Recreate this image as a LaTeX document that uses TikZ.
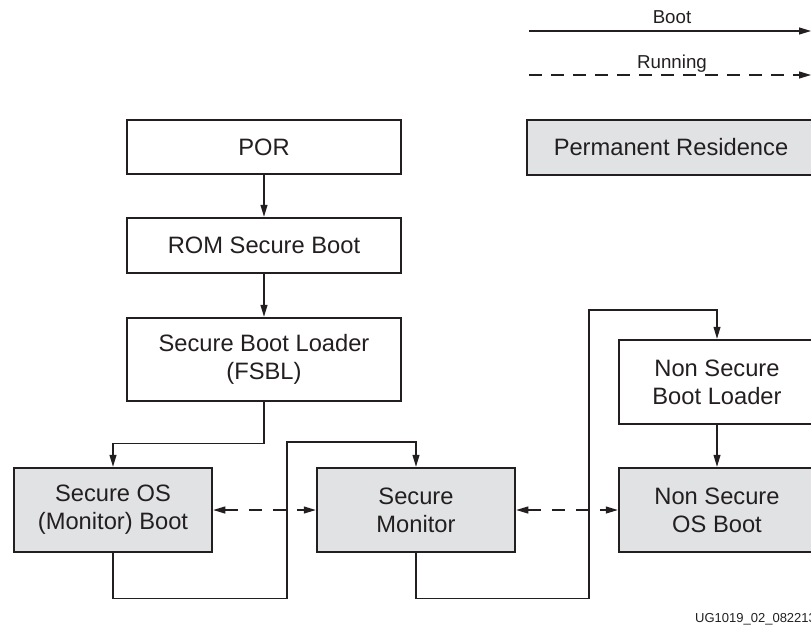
\documentclass[tikz,border=0pt]{standalone}
\usepackage{fontspec}
\setmainfont{Liberation Sans}
\usetikzlibrary{arrows.meta}
\definecolor{ink}{HTML}{231F20}
\definecolor{boxgrey}{HTML}{E1E2E4}
\tikzset{
  blk/.style={draw=ink, line width=2.5pt, text=ink, align=center,
    font=\fontsize{23.7}{28}\selectfont, inner sep=0pt},
  plainbox/.style={blk, fill=white},
  greybox/.style={blk, fill=boxgrey},
  arr/.style={draw=ink, line width=1.1pt, -{Triangle[length=12pt,width=7pt]}},
  darr/.style={draw=ink, line width=1.1pt, dash pattern=on 13pt off 11pt,
    {Triangle[length=12pt,width=7pt]}-{Triangle[length=12pt,width=7pt]}},
  legtext/.style={text=ink, font=\fontsize{18.7}{22}\selectfont, anchor=base},
}
\begin{document}
\begin{tikzpicture}[x=1pt,y=-1pt]
\useasboundingbox (0,0) rectangle (811,625);

% legend
\coordinate (b1) at (529,31);
\coordinate (b2) at (811,31);
\coordinate (r1) at (529,75);
\coordinate (r2) at (811,75);
\draw[arr] (b1) -- (b2);
\draw[arr, dash pattern=on 13pt off 9pt] (r1) -- (r2);
\node[legtext] (lboot) at (672,23) {Boot};
\node[legtext] (lrun) at (672,68) {Running};
\node[greybox, minimum width=288pt, minimum height=55pt] (pr) at (671,147.5) {Permanent Residence};

% boot chain
\node[plainbox, minimum width=274pt, minimum height=54pt] (por) at (264,147) {POR};
\node[plainbox, minimum width=274pt, minimum height=55pt] (rom) at (264,245.5) {ROM Secure Boot};
\node[plainbox, minimum width=274pt, minimum height=83pt] (fsbl) at (264,359.5) {Secure Boot Loader\\(FSBL)};
\node[greybox, minimum width=198pt, minimum height=84pt] (sos) at (113,510) {Secure OS\\(Monitor) Boot};
\node[greybox, minimum width=198pt, minimum height=84pt] (sm) at (416,510) {Secure\\Monitor};
\node[plainbox, minimum width=196pt, minimum height=84pt] (nsbl) at (717,382) {Non Secure\\Boot Loader};
\node[greybox, minimum width=196pt, minimum height=84pt] (nsos) at (717,510) {Non Secure\\OS Boot};

\coordinate (j1) at (287,442);
\coordinate (j2) at (589,310);

\draw[arr] (por) -- (rom);
\draw[arr] (rom) -- (fsbl);
\draw[arr] (fsbl.south) -- ++(0,41) -| (sos.north);
\draw[arr] (sos.south) -- ++(0,45) -| (j1) -| (sm.north);
\draw[arr] (sm.south) -- ++(0,45) -| (j2) -| (nsbl.north);
\draw[arr] (nsbl) -- (nsos);
\draw[darr] (sos) -- (sm);
\draw[darr] (sm) -- (nsos);

\node[text=ink, font=\fontsize{13}{16}\selectfont, anchor=base west, inner sep=0pt] (fig) at (695,622.5) {UG1019\_02\_082213};
\end{tikzpicture}
\end{document}
